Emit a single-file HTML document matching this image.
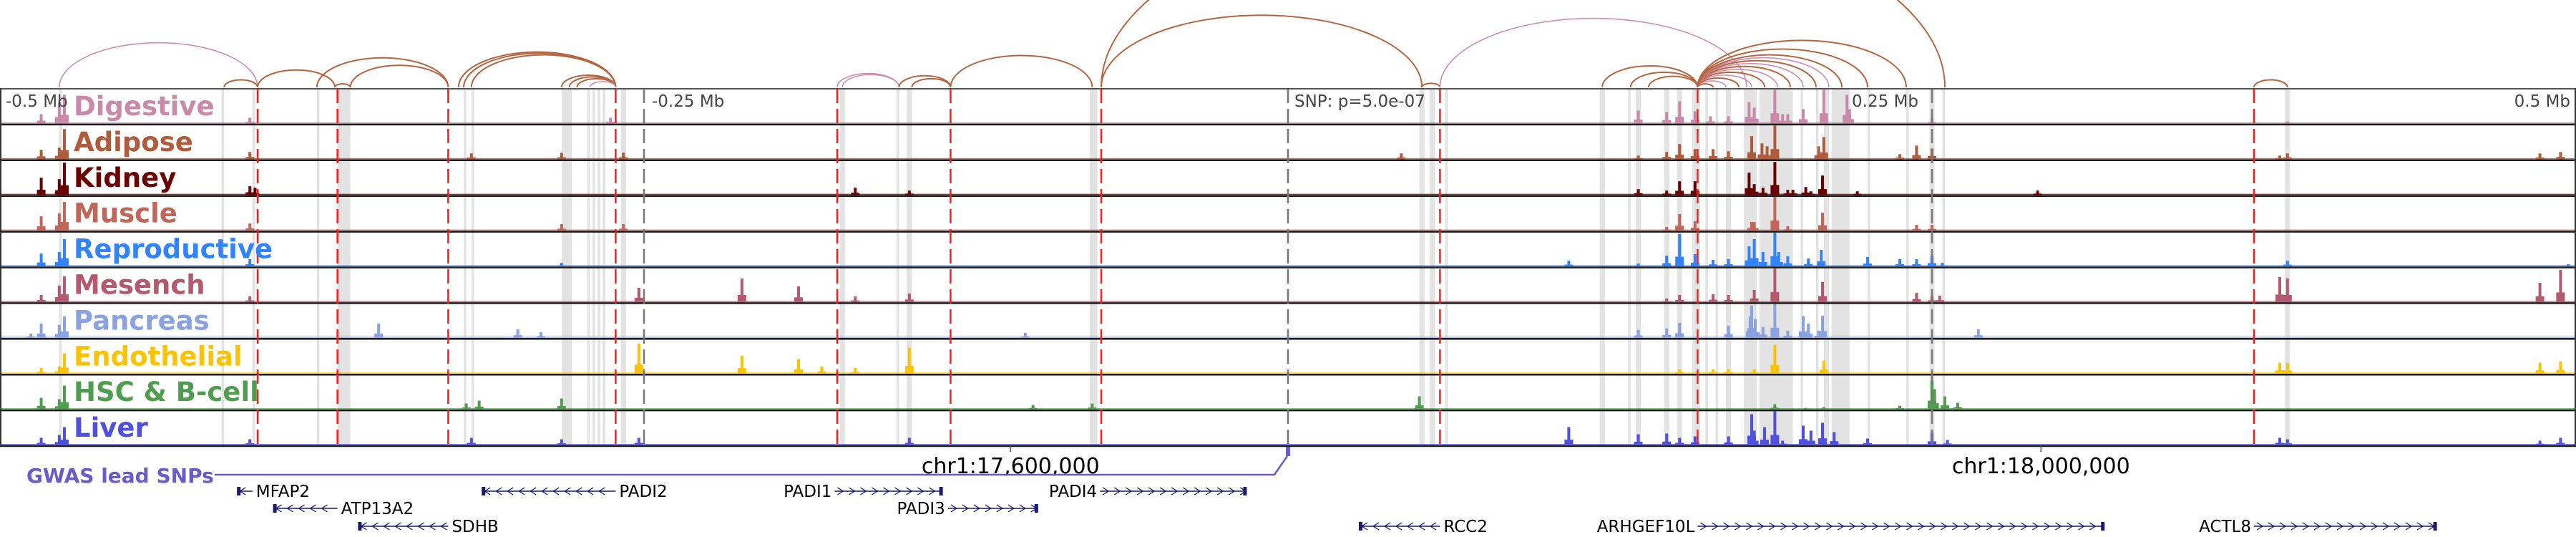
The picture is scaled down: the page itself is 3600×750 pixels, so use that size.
<!DOCTYPE html>
<html><head><meta charset="utf-8"><style>
html,body{margin:0;padding:0;background:#fff;}
svg{display:block;font-family:"DejaVu Sans","Liberation Sans",sans-serif;}
</style></head><body>
<svg id="fig" width="3600" height="750" viewBox="0 0 3600 750" xmlns="http://www.w3.org/2000/svg">
<g id="bands"></g>
<g id="arcs"></g>
<g id="tracks"></g>
<g id="vlines"></g>
<g id="labels"></g>
<g id="bottom"></g>
</svg>
<script>
const NS="http://www.w3.org/2000/svg";
// ---- data ----
const trackNames=["Digestive","Adipose","Kidney","Muscle","Reproductive","Mesench","Pancreas","Endothelial","HSC & B-cell","Liver"];
const trackColors=["#c98aa9","#b05b3b","#6a0000","#c2665a","#3283fe","#b45a70","#8aa2e0","#fcc400","#4f9d4f","#5050e0"];
const digestivePeaks=[[-484,13],[-477,30],[-475,40],[-403,8],[-263,8],[136,18],[147,16],[152,31],[158,17],[164,10],[171,10],[179,30],[181,22],[189,47],[192,13],[194,13],[200,20],[208,47],[217,40],[218,20],[250,6],[388,3]];
const adiposePeaks=[[-484,13],[-477,16],[-475,42],[-403,10],[-317,8],[-282,9],[-258,9],[44,8],[136,5],[147,10],[152,21],[158,14],[165,14],[171,11],[180,32],[184,22],[186,18],[189,47],[206,18],[208,31],[244,19],[250,15],[237.5,7],[385,5],[388,8],[486,8],[494,10]];
const kidneyPeaks=[[-484,24],[-477,22],[-475,45],[-403,12],[-401,10],[-168,10],[-147,6],[136,8],[147,6],[152,19],[158,19],[179,31],[181,15],[184.4,10],[189,46],[194,7],[196,7],[201,11],[203,5],[207.5,27],[221,5],[291,6]];
const musclePeaks=[[-484,20],[-477,24],[-475,40],[-403,10],[-282,9],[-258,9],[147,5],[152,23],[158,13],[180,12],[181,12],[189,47],[194,6],[207.5,25],[244,8],[250,8]];
const reproductivePeaks=[[-484,18],[-477,20],[-475,38],[-403,10],[-282,5],[109,8],[136,4],[147,15],[152,45],[158,17],[165,9],[171,10],[179,28],[181,38],[184.4,20],[189,47],[190.5,20],[194,14],[202,11],[207,23],[225,13],[237.5,10],[244,10],[250,15],[254,5],[388,8],[497,3]];
const mesenchPeaks=[[-484,10],[-477,23],[-475,36],[-403,8],[-252,20],[-212,33],[-190,22],[-168,8],[-147,12],[147,5],[152,10],[165,11],[171,10],[181,17],[189,47],[207.5,28],[244,13],[250,8],[253,9],[385,35],[388,33],[486,27],[494,45]];
const pancreasPeaks=[[-488,6],[-484,20],[-477,18],[-475,30],[-353,20],[-299,12],[-290,8],[-102,7],[136,11],[147,13],[152,21],[171,17],[179.4,30],[180,45],[181.4,26],[184.4,15],[189,47],[194,10],[200,30],[202,20],[206,10],[207.5,31],[268,12]];
const endothelialPeaks=[[-484,8],[-477,10],[-475,28],[-252,42],[-212,25],[-190,20],[-181,10],[-168,8],[-147,36],[152,6],[165,6],[171,6],[181,6],[189,40],[208,18],[385,15],[388,15],[486,15],[494,17]];
const hscPeaks=[[-484,16],[-477,14],[-475,33],[-319,8],[-314,12],[-282,15],[-99,6],[-76,8],[51,18],[189,7],[201,2],[208,3],[237.5,5],[250,40],[251,28],[255,18],[260,9]];
const liverPeaks=[[-484,10],[-477,14],[-475,25],[-403,8],[-317,10],[-282,8],[-252,10],[-147,10],[109,25],[136,15],[147,16],[152,10],[158,12],[171,12],[180,43],[181,20],[185,25],[189,47],[192,6],[200,27],[203,20],[207.5,31],[212,18],[225,9],[250,17],[256,7],[385,10],[388,8],[486,6],[494,10]];
const allPeaks=[digestivePeaks,adiposePeaks,kidneyPeaks,musclePeaks,reproductivePeaks,mesenchPeaks,pancreasPeaks,endothelialPeaks,hscPeaks,liverPeaks];
const bandStarts=[-477,-414,-402,-377,-369,-320,-317,-282,-272,-270,-268,-266,-259,-174,-152,-148,-77,51,55,61,121,132,135,146,151,157,162,166,170,177,183,199,205,208,211,225,240,249,254,387];
const bandEnds=[-476,-413,-401,-376,-364,-319,-316,-278,-271,-269,-267,-265,-257,-172,-151,-146,-74,53,57,62,123,133,137,148,153,160,163,167,172,182,196,200,206,210,218,226,241,251,255,389];
const redLines=[-400,-369,-326,-261,-175,-131,-72.5,59,159,375];
const grayLines=[-250,0,250];
const arcStarts=[-477,-413,-400,-377,-364,-370,-320,-317,-322,-282,-279,-276,-271,-175,-173,-151,-146,-131,-72.5,-72.5,52,59,122,133,140,159,159,159,159,159,159,159,159,159,159,159,159,159,375];
const arcEnds=[-400,-400,-370,-326,-326,-364,-261,-261,-261,-261,-261,-261,-261,-151,-151,-131,-131,-76,52,255,59,178,159,159,159,165,170,175,180,185,190,195,200,205,210,215,225,240,388];
const arcTissue=["p","b","b","b","b","b","b","b","b","b","b","b","p","p","p","b","b","b","b","b","b","p","b","b","b","b","p","b","p","b","p","b","p","b","p","b","b","b","b"];
const axisTicks=[-107.7,292.3];
const axisTickLabels=["chr1:17,600,000","chr1:18,000,000"];
const geneNames=["MFAP2","ATP13A2","SDHB","PADI2","PADI1","PADI3","PADI4","RCC2","ARHGEF10L","ACTL8"];
const geneStart=[-408,-394,-361,-313,-176,-132,-73,27.5,159,375];
const geneEnd=[-402,-369,-326,-261,-134,-97,-16,59,317,446];
const geneStrand=[-1,-1,-1,-1,1,1,1,-1,1,1];
const geneRow=[0,1,2,0,0,1,0,2,2,2];
// ---- scales ----
const X=kb=>1800+kb*3.6;
const TOP=124, TH=49.9;
function el(tag,attrs,parent){const e=document.createElementNS(NS,tag);for(const k in attrs)e.setAttribute(k,attrs[k]);parent.appendChild(e);return e;}
const gB=document.getElementById('bands'),gA=document.getElementById('arcs'),gT=document.getElementById('tracks'),gV=document.getElementById('vlines'),gL=document.getElementById('labels'),gBo=document.getElementById('bottom');
// bands
bandStarts.forEach((s,i)=>{const x1=X(s),x2=X(bandEnds[i]);
 const r=el('rect',{x:x1,y:TOP,width:Math.max(2,x2-x1),height:TH*10,fill:'#e3e3e3'},gB);
 
 });
// arcs
arcStarts.forEach((s,i)=>{const x1=X(s),x2=X(arcEnds[i]);const rx=(x2-x1)/2,ry=(x2-x1)*0.225;
 const p=el('path',{d:`M${x1},122 A${rx},${ry} 0 0 1 ${x2},122`,fill:'none',stroke:arcTissue[i]==='p'?'#cc8fae':'#b5653f','stroke-width':arcTissue[i]==='p'?1.6:2},gA);
 
 });
// tracks
allPeaks.forEach((peaks,t)=>{const base=TOP+TH*(t+1)-1.5;const c=trackColors[t];
 const g=el('g',{},gT);
 
 
 el('rect',{x:0,y:base-1.5,width:3600,height:1.5,fill:c,opacity:0.8},g);
 peaks.forEach(([kb,v])=>{const x=X(kb);
  const b=el('rect',{x:x-2,y:base-v,width:4,height:v,fill:c},g);
  
  
  el('rect',{x:x-6,y:base-v*0.3,width:12,height:v*0.3,fill:c},g);});
 const sep=el('line',{x1:0,x2:3600,y1:TOP+TH*(t+1),y2:TOP+TH*(t+1),stroke:'#1a1a1a','stroke-width':2.5},g);
 
 
});
el('line',{x1:0,x2:3600,y1:TOP,y2:TOP,stroke:'#555','stroke-width':2},gT);
el('line',{x1:1,x2:1,y1:TOP,y2:TOP+TH*10,stroke:'#333','stroke-width':2},gT);
el('line',{x1:3599,x2:3599,y1:TOP,y2:TOP+TH*10,stroke:'#333','stroke-width':2},gT);
// vertical lines
redLines.forEach(kb=>{const l=el('line',{x1:X(kb),x2:X(kb),y1:TOP,y2:TOP+TH*10,stroke:'#ff1a1a','stroke-width':2.5,'stroke-dasharray':'20 8'},gV);
 
 });
grayLines.forEach(kb=>{const l=el('line',{x1:X(kb),x2:X(kb),y1:TOP,y2:TOP+TH*10,stroke:'#777','stroke-width':2.5,'stroke-dasharray':'20 8'},gV);
 
 });
// offset labels
[["-0.5 Mb",8,'start'],["-0.25 Mb",911,'start'],["SNP: p=5.0e-07",1809,'start'],["0.25 Mb",2588,'start'],["0.5 Mb",3592,'end']].forEach(([s,x,a])=>{
 const t=el('text',{x:x,y:149,'font-size':23,fill:'#444','text-anchor':a},gL);t.textContent=s;
 
 });
trackNames.forEach((n,i)=>{const t=el('text',{x:103,y:TOP+TH*i+37,'font-size':37,'font-weight':'bold',fill:trackColors[i]},gL);t.textContent=n;
 
 });
// bottom axis
axisTicks.forEach((kb,i)=>{el('line',{x1:X(kb),x2:X(kb),y1:TOP+TH*10,y2:TOP+TH*10+8,stroke:'#555','stroke-width':1.5},gBo);
 const t=el('text',{x:X(kb),y:661,'font-size':30,fill:'#000','text-anchor':'middle'},gBo);t.textContent=axisTickLabels[i];
 
 });
// GWAS
const gw=el('text',{x:37,y:674,'font-size':28,'font-weight':'bold',fill:'#6a5acd'},gBo);gw.textContent="GWAS lead SNPs";


const gl=el('polyline',{points:`300,663 1781,663 1799,637`,fill:'none',stroke:'#6a5acd','stroke-width':2.5},gBo);


const gs=el('rect',{x:1797,y:624,width:6,height:13,fill:'#6a5acd'},gBo);


// genes
const rowY=[686,710,735];
geneNames.forEach((n,i)=>{const x1=X(geneStart[i]),x2=X(geneEnd[i]),y=rowY[geneRow[i]];
 const g=el('g',{},gBo);
 
 
 el('line',{x1:x1,x2:x2,y1:y,y2:y,stroke:'#1a1a70','stroke-width':1.5},g);
 for(let x=x1+8;x<x2-4;x+=16){const d=geneStrand[i];
  el('polyline',{points:`${x-4*d},${y-5} ${x+4*d},${y} ${x-4*d},${y+5}`,fill:'none',stroke:'#1a1a70','stroke-width':1.3},g);}
 const ex=geneStrand[i]<0?x1:x2-5;el('rect',{x:ex,y:y-6,width:5,height:12,fill:'#1a1a70'},g);
 const left=(n==="PADI1"||n==="PADI3"||n==="PADI4"||n==="ARHGEF10L"||n==="ACTL8");
 const t=el('text',{x:left?x1-4:x2+5,y:y+8,'font-size':23,fill:'#000','text-anchor':left?'end':'start'},g);t.textContent=n;});
</script>
</body></html>
